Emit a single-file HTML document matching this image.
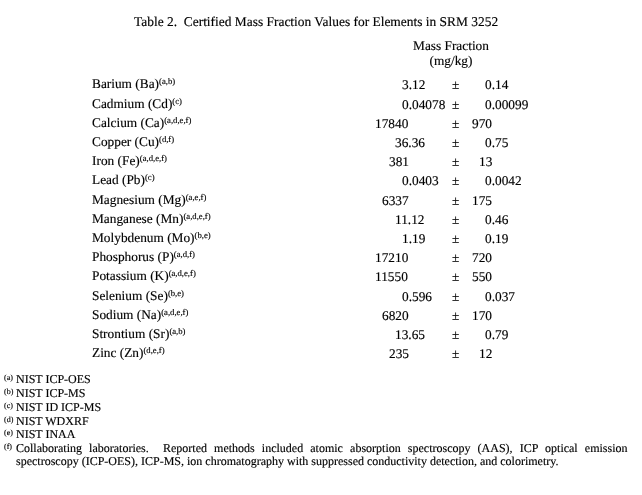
<!DOCTYPE html>
<html><head><meta charset="utf-8"><style>
html,body{margin:0;padding:0;background:#fff;}
body{text-rendering:geometricPrecision;width:642px;height:495px;overflow:hidden;position:relative;font-family:"Liberation Serif",serif;color:#000;-webkit-text-stroke:0.15px #000;}
.t{position:absolute;white-space:pre;line-height:20px;will-change:transform;}
sup{font-size:8.667px;vertical-align:baseline;position:relative;top:-3.6px;line-height:0;}
.fn sup{font-size:8px;top:-3.5px;}
</style></head><body>
<div class="t" style="left:133.80px;top:12px;font-size:13.43px;">Table 2.  Certified Mass Fraction Values for Elements in SRM 3252</div>
<div class="t" style="left:351px;width:200px;text-align:center;top:36px;font-size:13.333px">Mass Fraction</div>
<div class="t" style="left:351px;width:200px;text-align:center;top:51px;font-size:13.333px">(mg/kg)</div>
<div class="t" style="left:92.00px;top:74px;font-size:13.333px;">Barium (Ba)<sup>(a,b)</sup></div>
<div class="t" style="left:402.13px;top:75px;font-size:13.333px;">3.12</div>
<div class="t" style="left:451.80px;top:75px;font-size:13.333px;">±</div>
<div class="t" style="left:485.23px;top:75px;font-size:13.333px;">0.14</div>
<div class="t" style="left:92.00px;top:94px;font-size:13.333px;">Cadmium (Cd)<sup>(c)</sup></div>
<div class="t" style="left:402.13px;top:95px;font-size:13.333px;">0.04078</div>
<div class="t" style="left:451.80px;top:95px;font-size:13.333px;">±</div>
<div class="t" style="left:485.23px;top:95px;font-size:13.333px;">0.00099</div>
<div class="t" style="left:92.00px;top:113px;font-size:13.333px;">Calcium (Ca)<sup>(a,d,e,f)</sup></div>
<div class="t" style="left:375.47px;top:114px;font-size:13.333px;">17840</div>
<div class="t" style="left:451.80px;top:114px;font-size:13.333px;">±</div>
<div class="t" style="left:471.90px;top:114px;font-size:13.333px;">970</div>
<div class="t" style="left:92.00px;top:132px;font-size:13.333px;">Copper (Cu)<sup>(d,f)</sup></div>
<div class="t" style="left:395.47px;top:133px;font-size:13.333px;">36.36</div>
<div class="t" style="left:451.80px;top:133px;font-size:13.333px;">±</div>
<div class="t" style="left:485.23px;top:133px;font-size:13.333px;">0.75</div>
<div class="t" style="left:92.00px;top:151px;font-size:13.333px;">Iron (Fe)<sup>(a,d,e,f)</sup></div>
<div class="t" style="left:388.80px;top:152px;font-size:13.333px;">381</div>
<div class="t" style="left:451.80px;top:152px;font-size:13.333px;">±</div>
<div class="t" style="left:478.57px;top:152px;font-size:13.333px;">13</div>
<div class="t" style="left:92.00px;top:170px;font-size:13.333px;">Lead (Pb)<sup>(c)</sup></div>
<div class="t" style="left:402.13px;top:171px;font-size:13.333px;">0.0403</div>
<div class="t" style="left:451.80px;top:171px;font-size:13.333px;">±</div>
<div class="t" style="left:485.23px;top:171px;font-size:13.333px;">0.0042</div>
<div class="t" style="left:92.00px;top:190px;font-size:13.333px;">Magnesium (Mg)<sup>(a,e,f)</sup></div>
<div class="t" style="left:382.13px;top:191px;font-size:13.333px;">6337</div>
<div class="t" style="left:451.80px;top:191px;font-size:13.333px;">±</div>
<div class="t" style="left:471.90px;top:191px;font-size:13.333px;">175</div>
<div class="t" style="left:92.00px;top:209px;font-size:13.333px;">Manganese (Mn)<sup>(a,d,e,f)</sup></div>
<div class="t" style="left:395.47px;top:210px;font-size:13.333px;">11.12</div>
<div class="t" style="left:451.80px;top:210px;font-size:13.333px;">±</div>
<div class="t" style="left:485.23px;top:210px;font-size:13.333px;">0.46</div>
<div class="t" style="left:92.00px;top:228px;font-size:13.333px;">Molybdenum (Mo)<sup>(b,e)</sup></div>
<div class="t" style="left:402.13px;top:229px;font-size:13.333px;">1.19</div>
<div class="t" style="left:451.80px;top:229px;font-size:13.333px;">±</div>
<div class="t" style="left:485.23px;top:229px;font-size:13.333px;">0.19</div>
<div class="t" style="left:92.00px;top:247px;font-size:13.333px;">Phosphorus (P)<sup>(a,d,f)</sup></div>
<div class="t" style="left:375.47px;top:248px;font-size:13.333px;">17210</div>
<div class="t" style="left:451.80px;top:248px;font-size:13.333px;">±</div>
<div class="t" style="left:471.90px;top:248px;font-size:13.333px;">720</div>
<div class="t" style="left:92.00px;top:266px;font-size:13.333px;">Potassium (K)<sup>(a,d,e,f)</sup></div>
<div class="t" style="left:375.47px;top:267px;font-size:13.333px;">11550</div>
<div class="t" style="left:451.80px;top:267px;font-size:13.333px;">±</div>
<div class="t" style="left:471.90px;top:267px;font-size:13.333px;">550</div>
<div class="t" style="left:92.00px;top:286px;font-size:13.333px;">Selenium (Se)<sup>(b,e)</sup></div>
<div class="t" style="left:402.13px;top:287px;font-size:13.333px;">0.596</div>
<div class="t" style="left:451.80px;top:287px;font-size:13.333px;">±</div>
<div class="t" style="left:485.23px;top:287px;font-size:13.333px;">0.037</div>
<div class="t" style="left:92.00px;top:305px;font-size:13.333px;">Sodium (Na)<sup>(a,d,e,f)</sup></div>
<div class="t" style="left:382.13px;top:306px;font-size:13.333px;">6820</div>
<div class="t" style="left:451.80px;top:306px;font-size:13.333px;">±</div>
<div class="t" style="left:471.90px;top:306px;font-size:13.333px;">170</div>
<div class="t" style="left:92.00px;top:324px;font-size:13.333px;">Strontium (Sr)<sup>(a,b)</sup></div>
<div class="t" style="left:395.47px;top:325px;font-size:13.333px;">13.65</div>
<div class="t" style="left:451.80px;top:325px;font-size:13.333px;">±</div>
<div class="t" style="left:485.23px;top:325px;font-size:13.333px;">0.79</div>
<div class="t" style="left:92.00px;top:343px;font-size:13.333px;">Zinc (Zn)<sup>(d,e,f)</sup></div>
<div class="t" style="left:388.80px;top:344px;font-size:13.333px;">235</div>
<div class="t" style="left:451.80px;top:344px;font-size:13.333px;">±</div>
<div class="t" style="left:478.57px;top:344px;font-size:13.333px;">12</div>
<div class="t fn" style="left:4.2px;top:369px;font-size:12px"><sup>(a)</sup></div>
<div class="t" style="left:16.3px;top:369px;font-size:12px">NIST ICP-OES</div>
<div class="t fn" style="left:4.2px;top:383px;font-size:12px"><sup>(b)</sup></div>
<div class="t" style="left:16.3px;top:383px;font-size:12px">NIST ICP-MS</div>
<div class="t fn" style="left:4.2px;top:397px;font-size:12px"><sup>(c)</sup></div>
<div class="t" style="left:15.5px;top:397px;font-size:12px">NIST ID ICP-MS</div>
<div class="t fn" style="left:4.2px;top:411px;font-size:12px"><sup>(d)</sup></div>
<div class="t" style="left:16.3px;top:411px;font-size:12px">NIST WDXRF</div>
<div class="t fn" style="left:4.2px;top:424px;font-size:12px"><sup>(e)</sup></div>
<div class="t" style="left:16.3px;top:424px;font-size:12px">NIST INAA</div>
<div class="t fn" style="left:4.2px;top:438px;font-size:12px"><sup>(f)</sup></div>
<div class="t" style="left:16.3px;top:438px;width:611.5px;font-size:12px;white-space:normal;text-align:justify;text-align-last:justify">Collaborating laboratories.&nbsp; Reported methods included atomic absorption spectroscopy (AAS), ICP optical emission</div>
<div class="t" style="left:16.3px;top:451px;font-size:12px">spectroscopy (ICP-OES), ICP-MS, ion chromatography with suppressed conductivity detection, and colorimetry.</div>
</body></html>
